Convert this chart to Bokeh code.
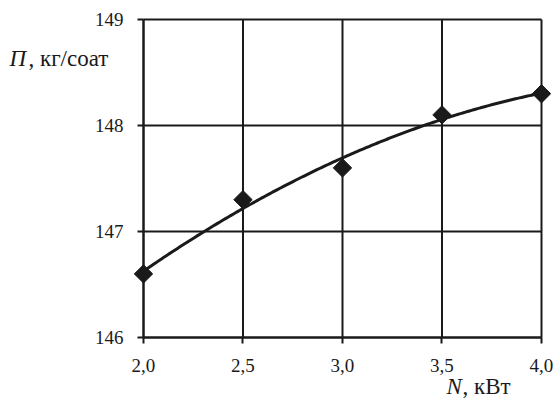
import numpy as np
from bokeh.plotting import figure
from bokeh.models import FixedTicker, CustomJSTickFormatter, Label, Range1d
from bokeh.embed import file_html
from bokeh.resources import INLINE

# Data
power_kw = [2.0, 2.5, 3.0, 3.5, 4.0]
productivity = [146.6, 147.3, 147.6, 148.1, 148.3]
x_ticks = [2.0, 2.5, 3.0, 3.5, 4.0]
y_ticks = [146, 147, 148, 149]

# Quadratic trend line fitted to the data
coef = np.polyfit(power_kw, productivity, 2)
xs = np.linspace(min(power_kw), max(power_kw), 200)
ys = np.polyval(coef, xs)

FONT = "Liberation Serif"
INK = "#1a1a1a"

x0, x1 = min(x_ticks), max(x_ticks)
y0, y1 = min(y_ticks), max(y_ticks)

# The plotting frame covers the whole canvas; the ranges are widened so that the
# chart box sits where it is in the reference, leaving room for the titles.
p = figure(width=556, height=399, output_backend="svg", toolbar_location=None,
           x_range=Range1d(1.28141, 4.07538), y_range=Range1d(145.4151, 149.1792),
           min_border=0)
p.background_fill_color = "white"
p.border_fill_color = "white"
p.outline_line_color = None
p.grid.visible = False

xa, ya = p.xaxis[0], p.yaxis[0]
xa.fixed_location = y0
ya.fixed_location = x0
xa.bounds = (x0, x1)
ya.bounds = (y0, y1)
for ax in (xa, ya):
    ax.axis_line_color = INK
    ax.axis_line_width = 2
    ax.major_tick_line_color = INK
    ax.major_tick_line_width = 2
    ax.major_tick_in = 0
    ax.major_tick_out = 6
    ax.minor_tick_line_color = None
    ax.major_label_text_font = FONT
    ax.major_label_text_font_size = "19px"
    ax.major_label_text_color = INK
xa.ticker = FixedTicker(ticks=x_ticks)
ya.ticker = FixedTicker(ticks=y_ticks)
xa.formatter = CustomJSTickFormatter(code="return tick.toFixed(1).replace('.', ',');")
xa.major_label_standoff = 16
ya.major_label_standoff = 14

# Grid lines (including the box edges) at the tick values
p.segment(x0=x_ticks, y0=[y0] * len(x_ticks), x1=x_ticks, y1=[y1] * len(x_ticks),
          line_color=INK, line_width=2)
p.segment(x0=[x0] * len(y_ticks), y0=y_ticks, x1=[x1] * len(y_ticks), y1=y_ticks,
          line_color=INK, line_width=2)

p.line(xs, ys, line_color=INK, line_width=3)
p.scatter(power_kw, productivity, marker="square", size=13, angle=np.pi / 4,
          fill_color=INK, line_color=INK)

# Axis titles
p.add_layout(Label(x=1.3266, y=148.632, text="П",
                   text_font=FONT, text_font_style="italic", text_font_size="23px",
                   text_baseline="alphabetic", text_color=INK))
p.add_layout(Label(x=1.4221, y=148.632, text=", кг/соат",
                   text_font=FONT, text_font_size="23px",
                   text_baseline="alphabetic", text_color=INK))
p.add_layout(Label(x=3.5226, y=145.538, text="N",
                   text_font=FONT, text_font_style="italic", text_font_size="23px",
                   text_baseline="alphabetic", text_color=INK))
p.add_layout(Label(x=3.603, y=145.538, text=", кВт",
                   text_font=FONT, text_font_size="23px",
                   text_baseline="alphabetic", text_color=INK))

open("out.html", "w").write(file_html(p, INLINE))
